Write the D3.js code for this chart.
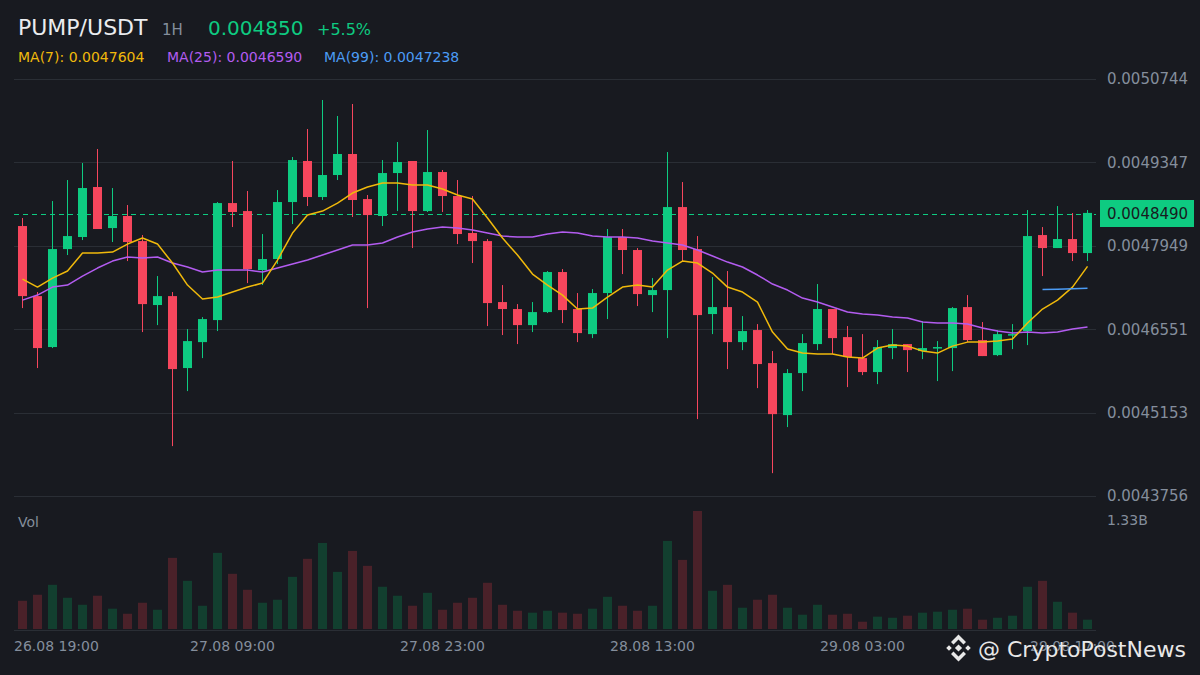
<!DOCTYPE html>
<html><head><meta charset="utf-8">
<script src="https://cdn.jsdelivr.net/npm/d3@7/dist/d3.min.js"></script>
<style>html,body{margin:0;padding:0;background:#181a20;}svg{display:block;font-family:"DejaVu Sans",sans-serif;}</style>
</head><body>
<svg id="chart" width="1200" height="675"></svg>
<script>
const categories = [
"26.08 19:00","26.08 20:00","26.08 21:00","26.08 22:00","26.08 23:00",
"27.08 00:00","27.08 01:00","27.08 02:00","27.08 03:00","27.08 04:00","27.08 05:00","27.08 06:00","27.08 07:00","27.08 08:00","27.08 09:00","27.08 10:00","27.08 11:00","27.08 12:00","27.08 13:00","27.08 14:00","27.08 15:00","27.08 16:00","27.08 17:00","27.08 18:00","27.08 19:00","27.08 20:00","27.08 21:00","27.08 22:00","27.08 23:00",
"28.08 00:00","28.08 01:00","28.08 02:00","28.08 03:00","28.08 04:00","28.08 05:00","28.08 06:00","28.08 07:00","28.08 08:00","28.08 09:00","28.08 10:00","28.08 11:00","28.08 12:00","28.08 13:00","28.08 14:00","28.08 15:00","28.08 16:00","28.08 17:00","28.08 18:00","28.08 19:00","28.08 20:00","28.08 21:00","28.08 22:00","28.08 23:00",
"29.08 00:00","29.08 01:00","29.08 02:00","29.08 03:00","29.08 04:00","29.08 05:00","29.08 06:00","29.08 07:00","29.08 08:00","29.08 09:00","29.08 10:00","29.08 11:00","29.08 12:00","29.08 13:00","29.08 14:00","29.08 15:00","29.08 16:00","29.08 17:00","29.08 18:00"];

const opens = [
0.0048280,0.0047106,0.0046252,0.0047894,0.0048096,0.0048934,0.0048246,0.0048448,0.0048028,0.0046956,
0.0047106,0.0045900,0.0046335,0.0046704,0.0048665,0.0048531,0.0047542,0.0047727,0.0048682,0.0049370,
0.0048766,0.0049135,0.0049487,0.0048732,0.0048448,0.0049168,0.0049370,0.0048531,0.0049185,0.0048783,
0.0048163,0.0048028,0.0047006,0.0046889,0.0046620,0.0046838,0.0047509,0.0046889,0.0046469,0.0047157,
0.0048096,0.0047878,0.0047123,0.0047207,0.0048598,0.0047894,0.0046805,0.0046922,0.0046335,0.0046537,
0.0045983,0.0045112,0.0045816,0.0046302,0.0046889,0.0046419,0.0046067,0.0045833,0.0046235,0.0046302,
0.0046185,0.0046235,0.0046235,0.0046922,0.0046369,0.0046117,0.0046453,0.0046520,0.0048129,0.0047911,
0.0048062,0.0047827];
const highs = [
0.0048414,0.0047174,0.0048699,0.0049051,0.0049336,0.0049571,0.0048917,0.0048632,0.0048129,0.0047442,
0.0047174,0.0046553,0.0046754,0.0048682,0.0049370,0.0048867,0.0048146,0.0048883,0.0049437,0.0049906,
0.0050392,0.0050124,0.0050325,0.0048800,0.0049386,0.0049688,0.0049370,0.0049889,0.0049219,0.0049051,
0.0048783,0.0048062,0.0047291,0.0046972,0.0047006,0.0047526,0.0047559,0.0047157,0.0047224,0.0048230,
0.0048230,0.0047911,0.0047408,0.0049520,0.0049017,0.0048112,0.0047425,0.0047526,0.0046771,0.0046637,
0.0046185,0.0045883,0.0046469,0.0047308,0.0046889,0.0046604,0.0046469,0.0046369,0.0046553,0.0046302,
0.0046687,0.0046352,0.0046922,0.0047123,0.0046671,0.0046537,0.0046637,0.0048548,0.0048263,0.0048615,
0.0048498,0.0048548];
const lows = [
0.0046905,0.0045900,0.0046235,0.0047794,0.0048045,0.0048230,0.0048012,0.0047693,0.0046503,0.0046620,
0.0044592,0.0045514,0.0046067,0.0046520,0.0048263,0.0047324,0.0047291,0.0047643,0.0048313,0.0048615,
0.0048716,0.0049051,0.0048431,0.0046905,0.0048280,0.0048531,0.0047911,0.0048515,0.0048515,0.0047978,
0.0047660,0.0046604,0.0046453,0.0046302,0.0046503,0.0046822,0.0046654,0.0046335,0.0046402,0.0046721,
0.0047475,0.0046939,0.0046838,0.0046402,0.0047693,0.0045045,0.0046469,0.0045883,0.0046201,0.0045564,
0.0044139,0.0044911,0.0045514,0.0046201,0.0046134,0.0045581,0.0045782,0.0045631,0.0046050,0.0045833,
0.0046050,0.0045682,0.0045849,0.0046335,0.0046101,0.0046101,0.0046218,0.0046285,0.0047442,0.0047911,
0.0047693,0.0047693];
const closes = [
0.0047106,0.0046235,0.0047894,0.0048112,0.0048917,0.0048230,0.0048448,0.0048012,0.0046972,0.0047106,
0.0045883,0.0046352,0.0046721,0.0048665,0.0048515,0.0047559,0.0047727,0.0048682,0.0049386,0.0048766,
0.0049135,0.0049487,0.0048716,0.0048464,0.0049168,0.0049353,0.0048531,0.0049185,0.0048783,0.0048146,
0.0048028,0.0046989,0.0046889,0.0046620,0.0046838,0.0047509,0.0046872,0.0046486,0.0047157,0.0048096,
0.0047878,0.0047140,0.0047207,0.0048598,0.0047878,0.0046788,0.0046922,0.0046335,0.0046520,0.0045967,
0.0045128,0.0045816,0.0046319,0.0046889,0.0046402,0.0046084,0.0045833,0.0046252,0.0046302,0.0046201,
0.0046235,0.0046252,0.0046905,0.0046369,0.0046101,0.0046469,0.0046469,0.0048112,0.0047911,0.0048062,
0.0047827,0.0048500];
// volume, billions
const volumes = [
0.318,0.386,0.498,0.352,0.273,0.375,0.229,0.172,0.296,0.217,
0.802,0.543,0.262,0.858,0.622,0.442,0.296,0.330,0.588,0.791,
0.970,0.644,0.880,0.712,0.476,0.375,0.262,0.408,0.217,0.296,
0.352,0.521,0.273,0.206,0.184,0.206,0.184,0.172,0.229,0.363,
0.262,0.206,0.262,0.993,0.779,1.330,0.431,0.498,0.240,0.330,
0.386,0.240,0.161,0.273,0.161,0.172,0.082,0.139,0.127,0.150,
0.184,0.195,0.217,0.229,0.105,0.127,0.150,0.476,0.543,0.307,
0.184,0.105];
const ma7 = [
0.0047391,0.0047257,0.0047408,0.0047526,0.0047827,0.0047827,0.0047844,0.0047978,0.0048079,0.0047978,
0.0047660,0.0047291,0.0047056,0.0047090,0.0047174,0.0047257,0.0047324,0.0047710,0.0048163,0.0048464,
0.0048531,0.0048665,0.0048833,0.0048934,0.0049001,0.0049001,0.0048967,0.0048967,0.0048900,0.0048800,
0.0048732,0.0048414,0.0048079,0.0047794,0.0047475,0.0047291,0.0047123,0.0046889,0.0046905,0.0047090,
0.0047257,0.0047291,0.0047257,0.0047542,0.0047693,0.0047660,0.0047492,0.0047257,0.0047174,0.0047006,
0.0046503,0.0046218,0.0046151,0.0046134,0.0046134,0.0046084,0.0046067,0.0046235,0.0046285,0.0046268,
0.0046185,0.0046151,0.0046268,0.0046335,0.0046335,0.0046352,0.0046386,0.0046654,0.0046889,0.0047039,
0.0047257,0.0047604];
const ma25 = [
0.0047039,0.0047123,0.0047257,0.0047291,0.0047442,0.0047576,0.0047693,0.0047760,0.0047743,0.0047760,
0.0047660,0.0047593,0.0047509,0.0047542,0.0047542,0.0047542,0.0047509,0.0047576,0.0047643,0.0047710,
0.0047794,0.0047878,0.0047961,0.0047961,0.0047995,0.0048096,0.0048179,0.0048230,0.0048263,0.0048246,
0.0048213,0.0048163,0.0048112,0.0048096,0.0048096,0.0048146,0.0048179,0.0048163,0.0048112,0.0048096,
0.0048096,0.0048079,0.0048028,0.0047995,0.0047961,0.0047878,0.0047777,0.0047676,0.0047593,0.0047459,
0.0047308,0.0047207,0.0047073,0.0047006,0.0046922,0.0046838,0.0046805,0.0046788,0.0046754,0.0046738,
0.0046671,0.0046654,0.0046654,0.0046637,0.0046570,0.0046520,0.0046486,0.0046503,0.0046486,0.0046503,
0.0046553,0.0046590];
const ma99Start = 68;
const ma99 = [0.0047215,0.0047222,0.0047230,0.0047238];

const priceTicks = [0.0050744,0.0049347,0.0047949,0.0046551,0.0045153,0.0043756];
const priceTickLabels = ["0.0050744","0.0049347","0.0047949","0.0046551","0.0045153","0.0043756"];
const timeTickLabels = ["26.08 19:00","27.08 09:00","27.08 23:00","28.08 13:00","29.08 03:00","29.08 17:00"];
const lastPrice = 0.0048490;
const volMaxLabel = "1.33B";

const UP = "#0ecb81", DOWN = "#f6465d";
const VUP = "#123f2f", VDOWN = "#4a2129";
const GRID = "#2a2e35", AXIS_TXT = "#848e9c";

const svg = d3.select("#chart");
svg.append("rect").attr("width",1200).attr("height",675).attr("fill","#181a20");

const x = d3.scalePoint().domain(categories).range([15,1095]).padding(0.5);
const y = d3.scaleLinear().domain([0.0043756,0.0050744]).range([496,79]);
const vy = d3.scaleLinear().domain([0,1.33]).range([629,511]);
const bodyW = 9;

// grid
svg.append("g").selectAll("line").data(priceTicks).join("line")
  .attr("x1",14).attr("x2",1096)
  .attr("y1",d=>Math.round(y(d))+0.5).attr("y2",d=>Math.round(y(d))+0.5)
  .attr("stroke",GRID).attr("stroke-width",1);
svg.append("line").attr("x1",14).attr("x2",1096).attr("y1",630.5).attr("y2",630.5)
  .attr("stroke",GRID).attr("stroke-width",1);

// price labels
svg.append("g").selectAll("text").data(priceTicks).join("text")
  .attr("x",1107).attr("y",d=>y(d)).attr("dy","0.36em")
  .attr("font-size",15).attr("fill",AXIS_TXT)
  .text((d,i)=>priceTickLabels[i]);

// volume bars
const idx = d3.range(categories.length);
svg.append("g").selectAll("rect").data(idx).join("rect")
  .attr("x",i=>x(categories[i])-bodyW/2)
  .attr("width",bodyW)
  .attr("y",i=>vy(volumes[i]))
  .attr("height",i=>vy(0)-vy(volumes[i]))
  .attr("fill",i=>closes[i]>=opens[i]?VUP:VDOWN);

svg.append("text").attr("x",18).attr("y",527).attr("font-size",14).attr("fill",AXIS_TXT).text("Vol");
svg.append("text").attr("x",1107).attr("y",525).attr("font-size",14).attr("fill",AXIS_TXT).text(volMaxLabel);

// last price dashed line
svg.append("line").attr("x1",14).attr("x2",1096)
  .attr("y1",Math.round(y(lastPrice))+0.5).attr("y2",Math.round(y(lastPrice))+0.5)
  .attr("stroke",UP).attr("stroke-width",1).attr("stroke-dasharray","5,4");

// candles
const cg = svg.append("g");
cg.selectAll("line").data(idx).join("line")
  .attr("x1",i=>x(categories[i])).attr("x2",i=>x(categories[i]))
  .attr("y1",i=>y(highs[i])).attr("y2",i=>y(lows[i]))
  .attr("stroke",i=>closes[i]>=opens[i]?UP:DOWN).attr("stroke-width",1);
cg.selectAll("rect").data(idx).join("rect")
  .attr("x",i=>x(categories[i])-bodyW/2).attr("width",bodyW)
  .attr("y",i=>y(Math.max(opens[i],closes[i])))
  .attr("height",i=>Math.max(1.5,Math.abs(y(opens[i])-y(closes[i]))))
  .attr("fill",i=>closes[i]>=opens[i]?UP:DOWN);

// moving averages
const line = d3.line().x(d=>x(categories[d[0]])).y(d=>y(d[1]));
function drawMA(vals, start, color){
  const pts = vals.map((v,k)=>[k+start,v]);
  svg.append("path").attr("d",line(pts)).attr("fill","none")
    .attr("stroke",color).attr("stroke-width",1.5).attr("stroke-linejoin","round");
}
drawMA(ma25,0,"#b35cf0");
drawMA(ma7,0,"#f0b90b");
drawMA(ma99,ma99Start,"#4c9cf5");

// last price tag
svg.append("rect").attr("x",1100).attr("y",y(lastPrice)-13.5).attr("width",94).attr("height",27).attr("fill",UP);
svg.append("text").attr("x",1107).attr("y",y(lastPrice)).attr("dy","0.36em")
  .attr("font-size",15).attr("fill","#181a20").text("0.0048490");

// time axis labels
const tickIdx = timeTickLabels.map(t=>categories.indexOf(t));
svg.append("g").selectAll("text").data(tickIdx).join("text")
  .attr("x",(d,i)=> i===0 ? 14 : x(categories[d]))
  .attr("text-anchor",(d,i)=> i===0 ? "start" : "middle")
  .attr("y",651).attr("font-size",14).attr("fill",AXIS_TXT)
  .text((d,i)=>timeTickLabels[i]);

// header
const hdr = svg.append("g");
hdr.append("text").attr("x",18).attr("y",35).attr("font-size",22).attr("fill","#eaecef").text("PUMP/USDT");
hdr.append("text").attr("x",162).attr("y",35).attr("font-size",15).attr("fill",AXIS_TXT).text("1H");
hdr.append("text").attr("x",208).attr("y",35).attr("font-size",20).attr("fill",UP).text("0.004850");
hdr.append("text").attr("x",317).attr("y",35).attr("font-size",16).attr("fill",UP).text("+5.5%");
hdr.append("text").attr("x",18).attr("y",62).attr("font-size",14).attr("fill","#f0b90b").text("MA(7): 0.0047604");
hdr.append("text").attr("x",167).attr("y",62).attr("font-size",14).attr("fill","#b35cf0").text("MA(25): 0.0046590");
hdr.append("text").attr("x",324).attr("y",62).attr("font-size",14).attr("fill","#4c9cf5").text("MA(99): 0.0047238");

// watermark
const wm = svg.append("g").attr("transform","translate(958.5,648)").attr("fill","#e8e8e8");
const dia = (cx,cy,r)=>`M${cx},${cy-r}L${cx+r},${cy}L${cx},${cy+r}L${cx-r},${cy}Z`;
wm.append("path").attr("d",dia(0,0,3.6)+dia(-9.5,0,2.8)+dia(9.5,0,2.8)
  +"M0,-13.5L7.5,-6L5,-3.5L0,-8.5L-5,-3.5L-7.5,-6Z"
  +"M0,13.5L7.5,6L5,3.5L0,8.5L-5,3.5L-7.5,6Z");
svg.append("text").attr("x",978).attr("y",657).attr("font-size",22).attr("fill","#e8e8e8")
  .attr("stroke","#181a20").attr("stroke-width",0.6).attr("paint-order","stroke")
  .text("@ CryptoPostNews");
</script>
</body></html>
